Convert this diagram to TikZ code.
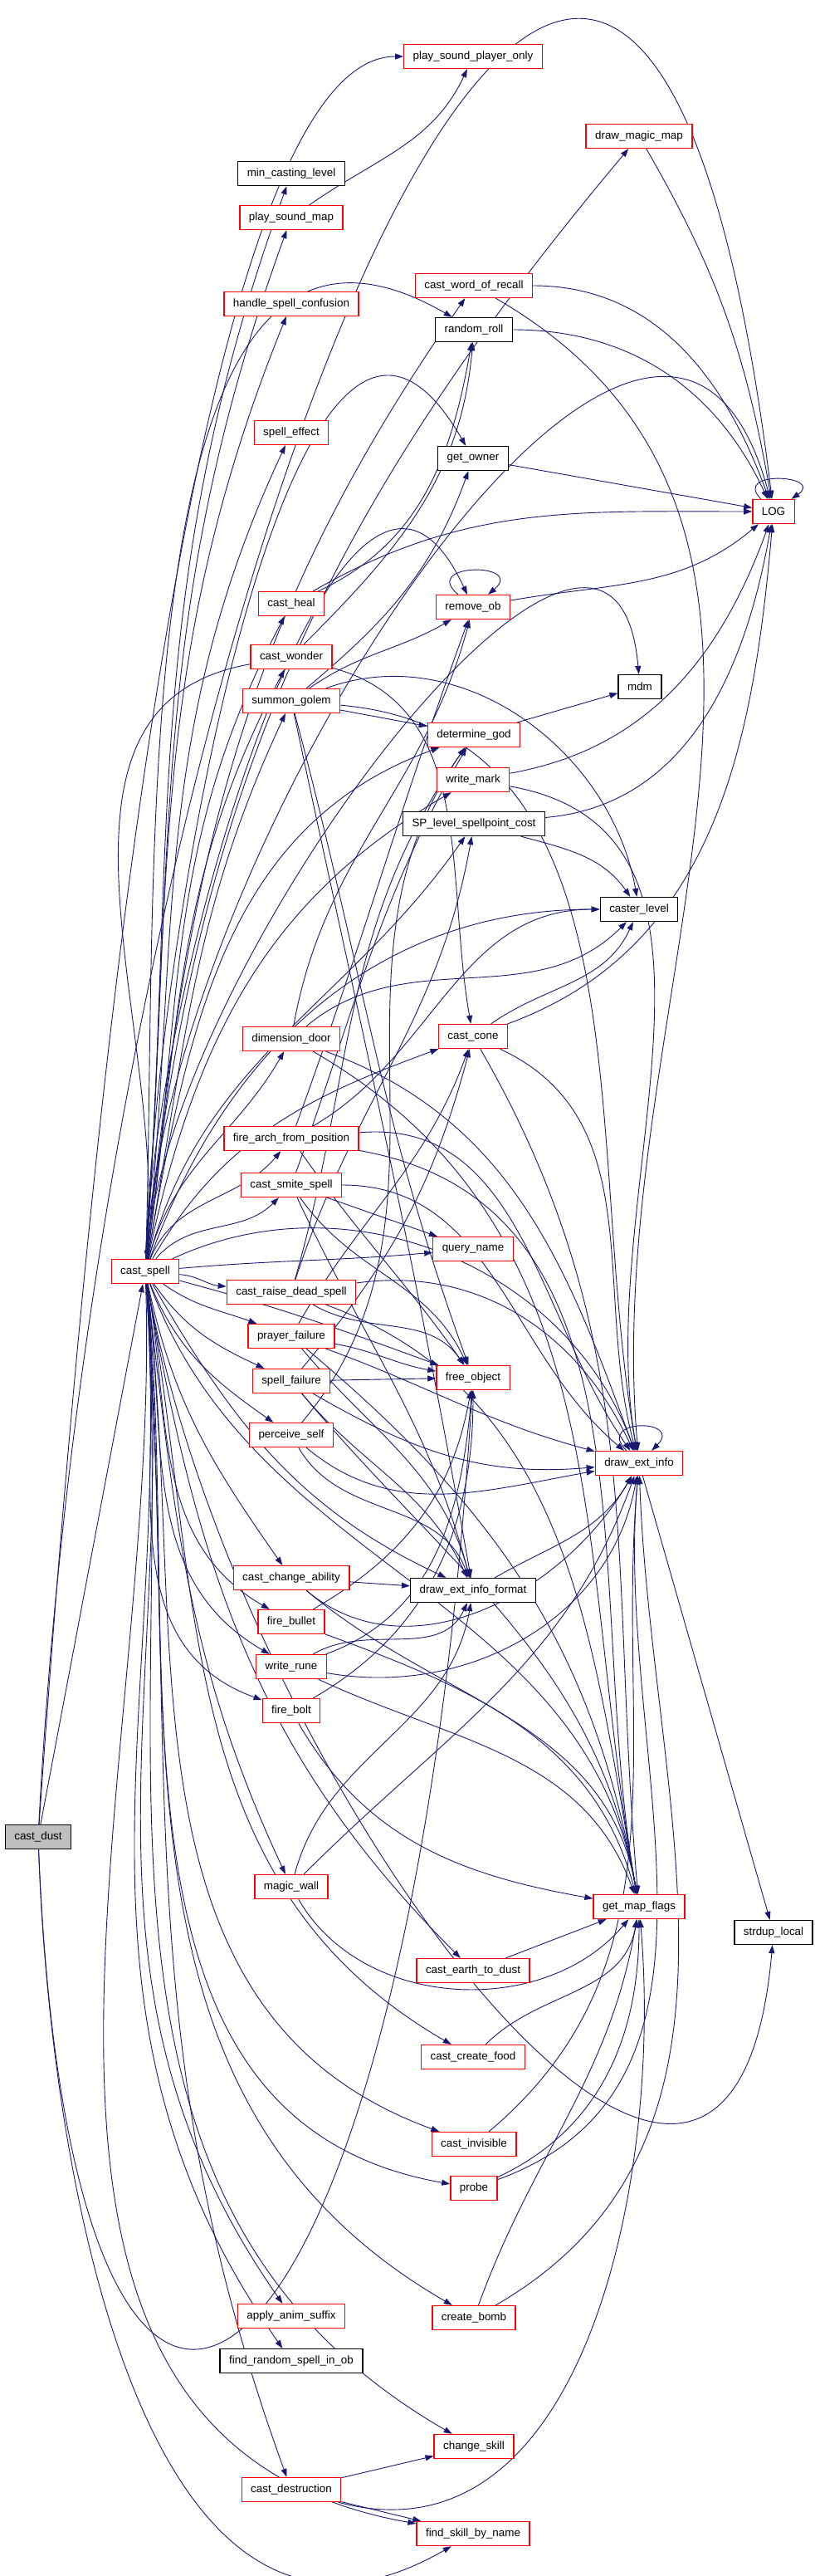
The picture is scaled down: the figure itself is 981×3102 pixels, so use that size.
\documentclass[tikz,border=0pt]{standalone}
\usepackage{fontspec}
\usepackage{tikz}
\usetikzlibrary{arrows.meta,backgrounds}
\newfontfamily\dxfont{Liberation Sans}
\definecolor{dxedge}{RGB}{25,25,112}
\definecolor{dxred}{RGB}{255,0,0}
\definecolor{dxgray}{RGB}{191,191,191}
% one pixel of the graph is 0.05pt
\tikzstyle{fn} = [draw=dxred, line width=0.065pt, fill=white, font=\dxfont\fontsize{0.67}{0.8}\selectfont, inner xsep=0.55pt, inner ysep=0pt, minimum height=1.45pt]
\tikzstyle{leaf} = [fn, draw=black]
\tikzstyle{root} = [fn, draw=black, fill=dxgray]
\tikzstyle{call} = [draw=dxedge, line width=0.045pt, -{Triangle[length=0.5pt,width=0.35pt]}]

\begin{document}
\begin{tikzpicture}[x=0.05pt,y=0.05pt]
\useasboundingbox (0,0) rectangle (981,-3102);
% Functions
\node[root] (cdust) at (46,-2212) {cast\_dust};
\node[fn] (cspell) at (175,-1531) {cast\_spell};
\node[fn] (psplayer) at (570,-68) {play\_sound\_player\_only};
\node[fn] (drawmap) at (770,-164) {draw\_magic\_map};
\node[leaf] (mincast) at (351,-209) {min\_casting\_level};
\node[fn] (psmap) at (351,-262) {play\_sound\_map};
\node[fn] (recall) at (571,-344) {cast\_word\_of\_recall};
\node[fn] (confusion) at (351,-366) {handle\_spell\_confusion};
\node[leaf] (rroll) at (571,-397) {random\_roll};
\node[fn] (speffect) at (351,-521) {spell\_effect};
\node[leaf] (owner) at (570,-552) {get\_owner};
\node[fn] (logf) at (932,-616) {LOG};
\node[fn] (heal) at (351,-727) {cast\_heal};
\node[fn] (rmob) at (570,-731) {remove\_ob};
\node[fn] (wonder) at (351,-791) {cast\_wonder};
\node[leaf] (mdm) at (771,-827) {mdm};
\node[fn] (golem) at (351,-844) {summon\_golem};
\node[fn] (god) at (571,-885) {determine\_god};
\node[fn] (wmark) at (570,-939) {write\_mark};
\node[leaf] (spcost) at (571,-992) {SP\_level\_spellpoint\_cost};
\node[leaf] (clevel) at (770,-1095) {caster\_level};
\node[fn] (ddoor) at (351,-1251) {dimension\_door};
\node[fn] (cone) at (570,-1248) {cast\_cone};
\node[fn] (farch) at (351,-1371) {fire\_arch\_from\_position};
\node[fn] (smite) at (351,-1427) {cast\_smite\_spell};
\node[fn] (qname) at (570,-1504) {query\_name};
\node[fn] (raise) at (351,-1556) {cast\_raise\_dead\_spell};
\node[fn] (pfail) at (351,-1609) {prayer\_failure};
\node[fn] (freeob) at (570,-1659) {free\_object};
\node[fn] (sfail) at (351,-1663) {spell\_failure};
\node[fn] (perceive) at (351,-1728) {perceive\_self};
\node[fn] (dei) at (770,-1762) {draw\_ext\_info};
\node[fn] (changeab) at (351,-1900) {cast\_change\_ability};
\node[leaf] (deif) at (570,-1915) {draw\_ext\_info\_format};
\node[fn] (bullet) at (351,-1953) {fire\_bullet};
\node[fn] (wrune) at (351,-2007) {write\_rune};
\node[fn] (bolt) at (351,-2060) {fire\_bolt};
\node[fn] (mwall) at (351,-2272) {magic\_wall};
\node[fn] (mapflags) at (770,-2296) {get\_map\_flags};
\node[leaf] (strdup) at (932,-2327) {strdup\_local};
\node[fn] (earth) at (570,-2373) {cast\_earth\_to\_dust};
\node[fn] (food) at (570,-2477) {cast\_create\_food};
\node[fn] (invis) at (571,-2582) {cast\_invisible};
\node[fn] (probe) at (571,-2635) {probe};
\node[fn] (anim) at (351,-2789) {apply\_anim\_suffix};
\node[fn] (bomb) at (571,-2791) {create\_bomb};
\node[leaf] (randspell) at (351,-2843) {find\_random\_spell\_in\_ob};
\node[fn] (chskill) at (571,-2946) {change\_skill};
\node[fn] (destr) at (351,-2998) {cast\_destruction};
\node[fn] (findskill) at (570,-3051) {find\_skill\_by\_name};

\begin{scope}[on background layer]
% cast_dust
\draw[call] (cdust) -- (cspell);
\draw[call] (cdust) to[out=87,in=97,looseness=2.05] (logf);
\draw[call] (cdust) to[out=86,in=180,in looseness=0.3] (psplayer);
\draw[call] (cdust) to[out=-88,in=-150,looseness=1.1] (findskill);
\draw[call] (cdust) .. controls +(40,-1000) and +(-80,-1300) .. (freeob);

% cast_spell, third column
\foreach \t/\o/\i in {mincast/86/-110, psmap/86/-110, confusion/86/-112, speffect/84/-115,
  heal/82/-118, wonder/82/-118, golem/80/-115, ddoor/75/-120, farch/68/-130, smite/50/-135,
  raise/-5/175, pfail/-35/160, sfail/-55/155, perceive/-68/145, changeab/-78/125,
  bullet/-80/150, wrune/-82/150, bolt/-83/160, mwall/-83/115, anim/-85/125,
  randspell/-86/125, destr/-86/110}
  \draw[call] (cspell) to[out=\o,in=\i] (\t);

% cast_spell, further columns
\foreach \t/\o/\i/\l in {drawmap/84/-130/1, recall/84/-125/1, rroll/88/150/1, owner/88/120/1,
  rmob/88/115/1, logf/87/105/1.1, mdm/86/95/1, god/80/-160/1, wmark/78/-150/1, spcost/75/-125/1,
  clevel/70/180/1, cone/60/-160/1, qname/5/185/1, freeob/-15/160/1, dei/25/110/1,
  deif/-60/155/1, mapflags/-70/100/1, earth/-80/135/1, food/-80/150/1, invis/-83/160/1,
  probe/-84/170/1, bomb/-85/150/1, strdup/-80/-95/1.4, chskill/-86/150/1, findskill/-88/170/1}
  \draw[call] (cspell) to[out=\o,in=\i,looseness=\l] (\t);

% callees of the callees
\draw[call] (psmap) to[out=35,in=-115] (psplayer);
\draw[call] (drawmap) to[out=-60,in=100] (logf);
\foreach \t/\o/\i in {logf/0/110, dei/-30/95} \draw[call] (recall) to[out=\o,in=\i] (\t);
\draw[call] (rroll) to[out=0,in=115] (logf);
\draw[call] (owner) -- (logf);
\draw[call] (rmob) to[out=140,in=40,min distance=3pt] (rmob);
\draw[call] (rmob) to[out=10,in=-140] (logf);
\draw[call] (logf) to[out=135,in=35,min distance=2.5pt] (logf);
\foreach \t/\o/\i in {logf/30/180, rroll/25/-100} \draw[call] (heal) to[out=\o,in=\i] (\t);
\foreach \t/\o/\i in {cspell/190/85, rroll/45/-95, cone/-15/100} \draw[call] (wonder) to[out=\o,in=\i] (\t);
\foreach \t/\o/\i in {owner/40/-110, rmob/35/-150, clevel/20/100, dei/-5/100, freeob/-75/110, deif/-78/100}
  \draw[call] (golem) to[out=\o,in=\i] (\t);
\draw[call] (golem) -- (god);
\draw[call] (god) -- (mdm);
\foreach \t/\o/\i in {logf/10/-110, dei/-10/100} \draw[call] (wmark) to[out=\o,in=\i] (\t);
\foreach \t/\o/\i in {logf/5/-100, clevel/-15/125} \draw[call] (spcost) to[out=\o,in=\i] (\t);
\foreach \t/\o/\i in {rmob/80/-105, clevel/40/-135, dei/-20/110, mapflags/-30/100}
  \draw[call] (ddoor) to[out=\o,in=\i] (\t);
\foreach \t/\o/\i in {clevel/35/-115, logf/20/-95, dei/-25/105, mapflags/-60/95}
  \draw[call] (cone) to[out=\o,in=\i] (\t);
\foreach \t/\o/\i in {rmob/70/-110, clevel/30/180, dei/5/125, mapflags/-10/100, freeob/-55/125}
  \draw[call] (farch) to[out=\o,in=\i] (\t);
\foreach \t/\o/\i in {god/70/-120, dei/0/140, freeob/-55/115, deif/-65/105}
  \draw[call] (smite) to[out=\o,in=\i] (\t);
\draw[call] (smite) -- (qname);
\foreach \t/\o/\i in {spcost/72/-100, god/74/-125, dei/8/115, freeob/-30/125, mapflags/-20/100}
  \draw[call] (raise) to[out=\o,in=\i] (\t);
\foreach \t/\o/\i in {cone/60/-110, freeob/-10/170, dei/-20/165, deif/-50/105, mapflags/-40/100}
  \draw[call] (pfail) to[out=\o,in=\i] (\t);
\foreach \t/\o/\i in {cone/50/-105, dei/-30/185, deif/-50/115, mapflags/-50/100}
  \draw[call] (sfail) to[out=\o,in=\i] (\t);
\draw[call] (sfail) -- (freeob);
\foreach \t/\o/\i in {god/50/-125, deif/-60/110, dei/-40/190} \draw[call] (perceive) to[out=\o,in=\i] (\t);
\draw[call] (changeab) -- (deif);
\foreach \t/\o/\i in {dei/-40/-120, mapflags/-40/100} \draw[call] (changeab) to[out=\o,in=\i] (\t);
\foreach \t/\o/\i in {freeob/30/-100, mapflags/-20/105} \draw[call] (bullet) to[out=\o,in=\i] (\t);
\foreach \t/\o/\i in {deif/30/-115, freeob/20/-95, dei/-10/-100, mapflags/-25/110}
  \draw[call] (wrune) to[out=\o,in=\i] (\t);
\foreach \t/\o/\i in {freeob/30/-90, mapflags/-60/170} \draw[call] (bolt) to[out=\o,in=\i] (\t);
\foreach \t/\o/\i in {deif/75/-100, dei/45/-110, mapflags/-60/-130} \draw[call] (mwall) to[out=\o,in=\i] (\t);
\draw[call] (earth) -- (mapflags);
\draw[call] (food) to[out=45,in=-100] (mapflags);
\draw[call] (invis) to[out=40,in=-95] (dei);
\foreach \t/\o/\i in {dei/20/-95, mapflags/25/-90} \draw[call] (probe) to[out=\o,in=\i] (\t);
\foreach \t/\o/\i in {mapflags/70/-100, dei/30/-88} \draw[call] (bomb) to[out=\o,in=\i] (\t);
\draw[call] (destr) -- (chskill);
\draw[call] (destr) -- (findskill);
\draw[call] (destr) to[out=-15,in=-85] (mapflags);
\draw[call] (dei) to[out=135,in=45,min distance=2.75pt] (dei);
\draw[call] (dei) -- (strdup);
\draw[call] (deif) to[out=30,in=-120] (dei);
\end{scope}
\end{tikzpicture}
\end{document}
